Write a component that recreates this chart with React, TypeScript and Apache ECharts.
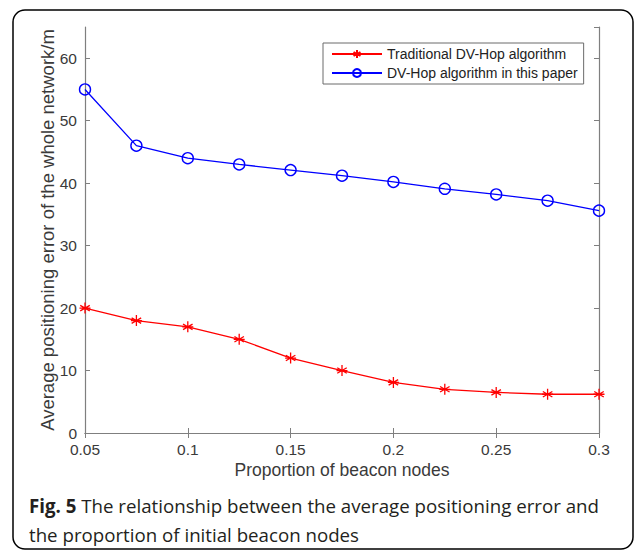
import React, { useEffect, useRef } from "react";
import * as echarts from "echarts";

const proportions = [0.05, 0.075, 0.1, 0.125, 0.15, 0.175, 0.2, 0.225, 0.25, 0.275, 0.3];
const traditional = [20, 18, 17, 15, 12, 10, 8.1, 7, 6.5, 6.2, 6.2];
const proposed = [55, 46, 44, 43, 42.1, 41.2, 40.2, 39.1, 38.2, 37.2, 35.6];
const seriesNames = ["Traditional DV-Hop algorithm", "DV-Hop algorithm in this paper"];
const xTitle = "Proportion of beacon nodes";
const yTitle = "Average positioning error of the whole network/m";
const captionBold = "Fig. 5";
const captionLine1 = " The relationship between the average positioning error and";
const captionLine2 = "the proportion of initial beacon nodes";

const ASTERISK =
  "path://M0,-5L0,5M-4.33,-2.5L4.33,2.5M-4.33,2.5L4.33,-2.5M-5,0L5,0";

export default function App() {
  const ref = useRef<HTMLDivElement>(null);
  useEffect(() => {
    const chart = echarts.init(ref.current!, null, { renderer: "svg" });
    const axisGray = "#7f7f7f";
    const labelColor = "#3a3a3a";
    const font = "Liberation Sans, Arial";
    const fmt = (v: number) => String(+v.toFixed(2));
    chart.setOption({
      animation: false,
      backgroundColor: "#ffffff",
      grid: { left: 85, right: 35, top: 27, bottom: 119 },
      legend: {
        orient: "vertical",
        left: 323,
        top: 43,
        padding: [4, 6, 4, 8],
        itemGap: 5,
        itemWidth: 50,
        itemHeight: 10,
        borderColor: "#6a6a6a",
        borderWidth: 1,
        textStyle: { fontFamily: font, fontSize: 14, color: "#222" },
        data: [{ name: seriesNames[0] }, { name: seriesNames[1] }],
      },
      xAxis: [
        {
          type: "value",
          min: 0.05,
          max: 0.3,
          interval: 0.05,
          name: xTitle,
          nameLocation: "middle",
          nameGap: 28,
          nameMoveOverlap: false,
          nameTextStyle: { fontFamily: font, fontSize: 17.5, color: labelColor },
          axisLine: { show: true, lineStyle: { color: axisGray, width: 1.2 } },
          axisTick: { show: true, inside: true, length: 5, lineStyle: { color: axisGray } },
          axisLabel: {
            formatter: fmt,
            fontFamily: font,
            fontSize: 15.5,
            color: labelColor,
            margin: 8,
          },
          splitLine: { show: false },
        },
        {
          type: "value",
          position: "top",
          min: 0.05,
          max: 0.3,
          interval: 0.05,
          axisLine: { show: true, lineStyle: { color: axisGray, width: 1.2 } },
          axisTick: { show: true, inside: true, length: 5, lineStyle: { color: axisGray } },
          axisLabel: { show: false },
          splitLine: { show: false },
        },
      ],
      yAxis: [
        {
          type: "value",
          min: 0,
          max: 65,
          interval: 10,
          name: yTitle,
          nameLocation: "middle",
          nameGap: 28,
          nameMoveOverlap: false,
          nameTextStyle: { fontFamily: font, fontSize: 18.5, color: labelColor },
          axisLine: { show: true, lineStyle: { color: axisGray, width: 1.2 } },
          axisTick: { show: true, inside: true, length: 5, lineStyle: { color: axisGray } },
          axisLabel: {
            showMaxLabel: false,
            fontFamily: font,
            fontSize: 15.5,
            color: labelColor,
            margin: 8,
          },
          splitLine: { show: false },
        },
        {
          type: "value",
          position: "right",
          min: 0,
          max: 65,
          interval: 10,
          axisLine: { show: true, lineStyle: { color: axisGray, width: 1.2 } },
          axisTick: { show: true, inside: true, length: 5, lineStyle: { color: axisGray } },
          axisLabel: { show: false },
          splitLine: { show: false },
        },
      ],
      series: [
        {
          name: seriesNames[0],
          type: "line",
          data: proportions.map((p, i) => [p, traditional[i]]),
          symbol: ASTERISK,
          symbolSize: 11,
          showAllSymbol: true,
          lineStyle: { color: "#ff0000", width: 1.3 },
          itemStyle: { color: "#ff0000", borderColor: "#ff0000", borderWidth: 1.3 },
        },
        {
          name: seriesNames[1],
          type: "line",
          data: proportions.map((p, i) => [p, proposed[i]]),
          symbol: "circle",
          symbolSize: 11,
          showAllSymbol: true,
          lineStyle: { color: "#0000ff", width: 1.3 },
          itemStyle: { color: "rgba(0,0,0,0)", borderColor: "#0000ff", borderWidth: 1.4 },
        },
      ],
      graphic: [
        {
          type: "rect",
          shape: { x: 13, y: 10, width: 620, height: 539, r: 12 },
          style: { fill: "none", stroke: "#000", lineWidth: 1.5 },
          silent: true,
          z: -1,
        },
        {
          type: "text",
          left: 29,
          top: 496,
          style: {
            text: "{b|" + captionBold + "}{n|" + captionLine1 + "}\n{n|" + captionLine2 + "}",
            rich: {
              b: { fontFamily: "Open Sans", fontWeight: "bold", fontSize: 18.7, lineHeight: 29, fill: "#231f20" },
              n: { fontFamily: "Open Sans", fontSize: 18.7, lineHeight: 29, fill: "#231f20" },
            },
          },
        },
      ],
    });
    return () => chart.dispose();
  }, []);
  return (
    <div
      ref={ref}
      style={{ position: "fixed", left: 0, top: 0, width: 634, height: 552, background: "#fff" }}
    />
  );
}
